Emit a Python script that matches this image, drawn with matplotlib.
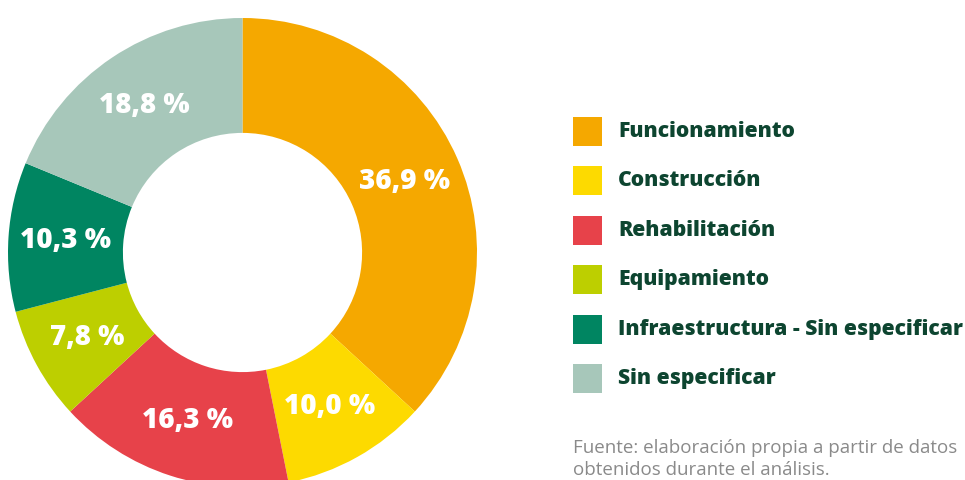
import matplotlib.pyplot as plt
from matplotlib.patches import Rectangle

categorias = ["Funcionamiento", "Construcción", "Rehabilitación", "Equipamiento",
              "Infraestructura - Sin especificar", "Sin especificar"]
porcentajes = [36.9, 10.0, 16.3, 7.8, 10.3, 18.8]
colores = ["#F5A800", "#FDDA00", "#E7424A", "#BDCF00", "#008561", "#A7C7BA"]
fuente = "Fuente: elaboración propia a partir de datos\nobtenidos durante el análisis."

etiquetas = iter([f"{p:.1f} %".replace(".", ",") for p in porcentajes])

fig = plt.figure(figsize=(9.65, 4.8), dpi=100)
W, H = 965, 480

# eje del anillo: centro (242.5, 252.5) px, radio 234.5 px
r = 234.5
ax = fig.add_axes([(242.5 - r) / W, (H - 252.5 - r) / H, 2 * r / W, 2 * r / H])
ax.pie(porcentajes, colors=colores, startangle=90, counterclock=False,
       radius=1, wedgeprops=dict(width=0.49, linewidth=0),
       autopct=lambda p: next(etiquetas), pctdistance=0.755,
       textprops=dict(color="white", fontsize=20, fontweight=800, family="Open Sans"))
ax.set_xlim(-1, 1)
ax.set_ylim(-1, 1)
ax.axis("off")

# leyenda manual
y0 = 131.5
paso = 49.4
for i, (cat, col) in enumerate(zip(categorias, colores)):
    yc = y0 + i * paso
    fig.add_artist(Rectangle((573 / W, (H - yc - 14.5) / H), 29 / W, 29 / H,
                             facecolor=col, edgecolor="none", transform=fig.transFigure))
    fig.text(618 / W, (H - yc) / H, cat, fontsize=15.2, fontweight=800, family="Open Sans",
             color="#0D4530", va="center", ha="left")

fig.text(573 / W, (H - 459) / H, fuente, fontsize=13.5, family="Open Sans",
         color="#8A8A8A", va="center", ha="left", linespacing=1.25)

fig.savefig("out.png", dpi=100)
